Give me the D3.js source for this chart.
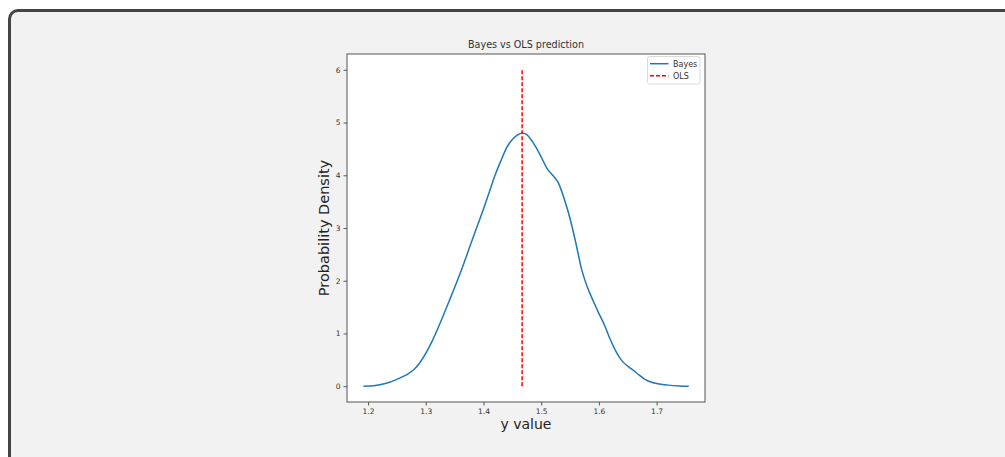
<!DOCTYPE html>
<html>
<head>
<meta charset="utf-8">
<script src="https://cdn.jsdelivr.net/npm/d3@7"></script>
<style>
  html, body { margin: 0; padding: 0; background: #ffffff; width: 1005px; height: 457px; overflow: hidden; }
  #frame { position: absolute; left: 8px; top: 9px; width: 1020px; height: 480px; box-sizing: border-box;
           border: 3px solid #454545; border-radius: 10px; background: #f2f2f2; }
  svg { position: absolute; left: 0; top: 0; }
  text { font-family: "DejaVu Sans", sans-serif; }
</style>
</head>
<body>
<div id="frame"></div>
<svg id="chart" width="1005" height="457"></svg>
<script>
// ---- data ----
const bayesX = [1.192, 1.21, 1.23, 1.25, 1.26, 1.27, 1.28, 1.29, 1.30, 1.31, 1.32, 1.33, 1.34, 1.35, 1.36, 1.37, 1.38, 1.39, 1.40, 1.41, 1.42, 1.43, 1.44, 1.45, 1.46, 1.467, 1.475, 1.48, 1.49, 1.50, 1.51, 1.52, 1.53, 1.54, 1.55, 1.56, 1.57, 1.58, 1.59, 1.60, 1.61, 1.62, 1.63, 1.64, 1.65, 1.66, 1.67, 1.68, 1.69, 1.70, 1.72, 1.74, 1.7557];
const bayesY = [0.0, 0.01, 0.05, 0.13, 0.18, 0.24, 0.32, 0.45, 0.62, 0.83, 1.07, 1.33, 1.60, 1.87, 2.15, 2.45, 2.76, 3.06, 3.36, 3.68, 4.00, 4.27, 4.52, 4.68, 4.77, 4.80, 4.77, 4.71, 4.55, 4.35, 4.13, 4.00, 3.85, 3.55, 3.18, 2.72, 2.22, 1.88, 1.62, 1.38, 1.15, 0.88, 0.65, 0.48, 0.38, 0.30, 0.21, 0.13, 0.08, 0.05, 0.02, 0.005, 0.0];
const olsX = [1.467, 1.467];
const olsY = [0.0, 6.0];
const xTicks = [1.2, 1.3, 1.4, 1.5, 1.6, 1.7];
const yTicks = [0, 1, 2, 3, 4, 5, 6];
const titleText = "Bayes vs OLS prediction";
const xLabel = "y value";
const yLabel = "Probability Density";
const legendLabels = ["Bayes", "OLS"];

// ---- layout ----
const L = 347, R = 705, T = 54, B = 402;
const svg = d3.select("#chart");
const x = d3.scaleLinear().domain([1.1635, 1.7839]).range([L, R]);
const y = d3.scaleLinear().domain([-0.3, 6.3]).range([B, T]);

svg.append("rect").attr("x", L).attr("y", T).attr("width", R - L).attr("height", B - T).attr("fill", "#ffffff");

const line = d3.line().x(d => x(d[0])).y(d => y(d[1])).curve(d3.curveMonotoneX);
svg.append("path").datum(bayesX.map((v, i) => [v, bayesY[i]]))
  .attr("d", line).attr("fill", "none").attr("stroke", "#1f77b4").attr("stroke-width", 1.5);
svg.append("path").datum(olsX.map((v, i) => [v, olsY[i]]))
  .attr("d", d3.line().x(d => x(d[0])).y(d => y(d[1]))).attr("fill", "none")
  .attr("stroke", "#ff0000").attr("stroke-width", 1.5).attr("stroke-dasharray", "4,2");

// axes
const xAxis = svg.append("g").attr("transform", `translate(0,${B})`)
  .call(d3.axisBottom(x).tickValues(xTicks).tickFormat(d3.format(".1f")).tickSize(3.5).tickPadding(3));
const yAxis = svg.append("g").attr("transform", `translate(${L},0)`)
  .call(d3.axisLeft(y).tickValues(yTicks).tickFormat(d3.format("d")).tickSize(3.5).tickPadding(3));
[xAxis, yAxis].forEach(g => {
  g.select(".domain").remove();
  g.selectAll(".tick line").attr("stroke", "#333").attr("stroke-width", 0.8);
  g.selectAll(".tick text").attr("fill", "#333").style("font-size", "7.5px").style("font-family", "DejaVu Sans");
});

// spines
svg.append("rect").attr("x", L).attr("y", T).attr("width", R - L).attr("height", B - T)
  .attr("fill", "none").attr("stroke", "#555").attr("stroke-width", 1);

// title & labels
svg.append("text").attr("x", (L + R) / 2).attr("y", 48).attr("text-anchor", "middle")
  .style("font-size", "9.6px").attr("fill", "#333").text(titleText);
svg.append("text").attr("x", (L + R) / 2).attr("y", 429).attr("text-anchor", "middle")
  .style("font-size", "14px").attr("fill", "#222").text(xLabel);
svg.append("text").attr("transform", `translate(329,${(T + B) / 2}) rotate(-90)`).attr("text-anchor", "middle")
  .style("font-size", "14.5px").attr("fill", "#222").text(yLabel);

// legend
const lg = svg.append("g");
lg.append("rect").attr("x", 647.5).attr("y", 56.5).attr("width", 52.5).attr("height", 27.5).attr("rx", 2)
  .attr("fill", "#ffffff").attr("stroke", "#d0d0d0").attr("stroke-width", 0.8);
const colors = ["#1f77b4", "#ff0000"];
const dashes = [null, "4,2"];
legendLabels.forEach((lab, i) => {
  const yy = 63.7 + i * 12;
  lg.append("line").attr("x1", 650).attr("x2", 668.5).attr("y1", yy).attr("y2", yy)
    .attr("stroke", colors[i]).attr("stroke-width", 1.5).attr("stroke-dasharray", dashes[i]);
  lg.append("text").attr("x", 673).attr("y", yy + 2.8).style("font-size", "8px").attr("fill", "#333").text(lab);
});
</script>
</body>
</html>
